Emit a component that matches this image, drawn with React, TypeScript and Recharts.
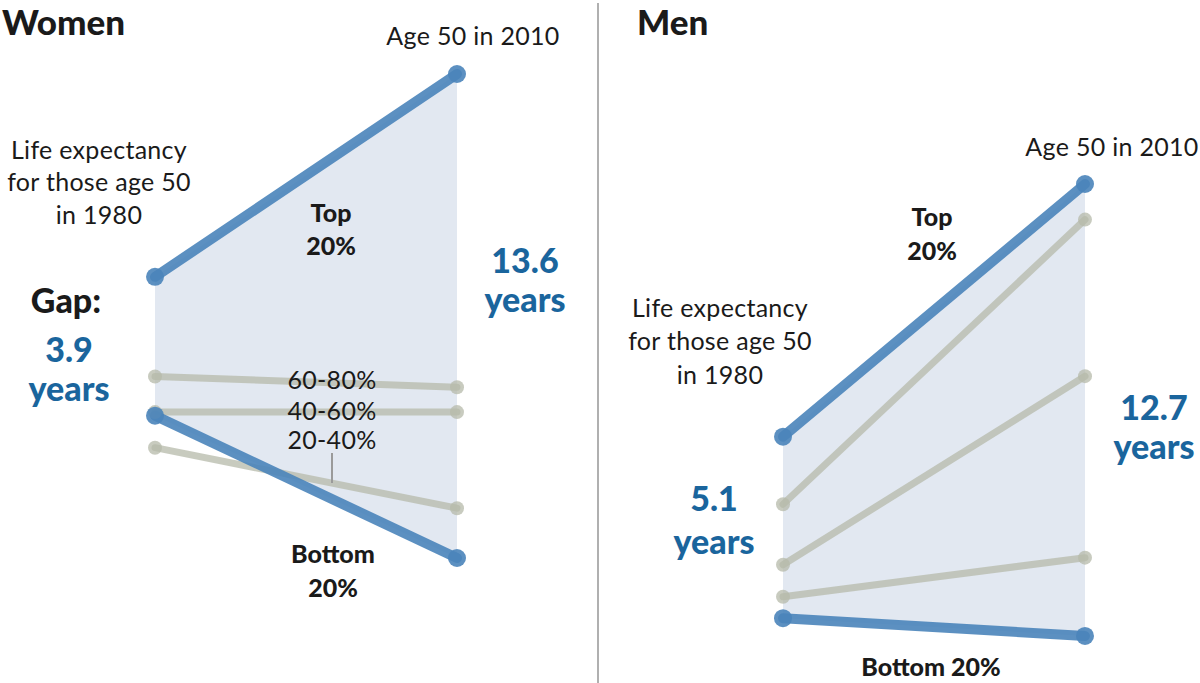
import { ComposedChart, Line, Area, XAxis, YAxis } from 'recharts';

// Life expectancy at age 50, by income quintile
const years = [1980, 2010];

const womenTop = [85.6, 91.3];
const women6080 = [82.8, 82.5];
const women4060 = [81.8, 81.8];
const women2040 = [80.8, 79.1];
const womenBottom = [81.7, 77.7];

const menTop = [81.7, 88.8];
const men6080 = [79.8, 87.8];
const men4060 = [78.1, 83.4];
const men2040 = [77.2, 78.3];
const menBottom = [76.6, 76.1];

const BLUE = '#4a84ba';
const GRAY = '#b6b9a9';
const SHADE = '#e2e8f1';
const TEXT_BLUE = '#1a659d';

const buildRows = (top: number[], q4: number[], q3: number[], q2: number[], bottom: number[]) =>
    years.map((year, i) => ({
        year,
        top: top[i],
        q4: q4[i],
        q3: q3[i],
        q2: q2[i],
        bottom: bottom[i],
        band: [bottom[i], top[i]],
    }));

const womenRows = buildRows(womenTop, women6080, women4060, women2040, womenBottom);
const menRows = buildRows(menTop, men6080, men4060, men2040, menBottom);

const font = 'Lato, "Open Sans", sans-serif';

function Label({ x, y, children, size = 25, weight = 400, color = '#1a1a1a', align = 'center', spacing = 0.3 }: any) {
    const tx = align === 'center' ? '-50%' : align === 'right' ? '-100%' : '0';
    return (
        <div
            style={{
                position: 'absolute',
                left: x,
                top: y,
                transform: `translate(${tx}, -50%)`,
                fontFamily: font,
                fontSize: size,
                fontWeight: weight,
                letterSpacing: spacing,
                color,
                whiteSpace: 'nowrap',
                lineHeight: 1.2,
            }}
        >
            {children}
        </div>
    );
}

function Slope({ rows, domain, margin }: { rows: any[]; domain: [number, number]; margin: any }) {
    return (
        <ComposedChart width={600} height={683} data={rows} margin={margin}>
            <XAxis dataKey="year" type="number" domain={[1980, 2010]} hide />
            <YAxis type="number" domain={domain} hide />
            <Area dataKey="band" fill={SHADE} fillOpacity={1} stroke="none" isAnimationActive={false} />
            {['q4', 'q3', 'q2'].map((k) => (
                <Line
                    key={k}
                    dataKey={k}
                    stroke={GRAY}
                    strokeOpacity={0.75}
                    strokeWidth={7}
                    strokeLinecap="round"
                    dot={{ r: 7, fill: GRAY, fillOpacity: 0.75, stroke: 'none' }}
                    isAnimationActive={false}
                />
            ))}
            {['bottom', 'top'].map((k) => (
                <Line
                    key={k}
                    dataKey={k}
                    stroke={BLUE}
                    strokeOpacity={0.9}
                    strokeWidth={10}
                    strokeLinecap="round"
                    dot={{ r: 9, fill: BLUE, fillOpacity: 0.9, stroke: 'none' }}
                    isAnimationActive={false}
                />
            ))}
        </ComposedChart>
    );
}

export default function App() {
    return (
        <div style={{ position: 'relative', width: 1200, height: 683, background: '#fff', overflow: 'hidden' }}>
            <style>{'body{margin:0}'}</style>

            {/* Women */}
            <div style={{ position: 'absolute', left: 0, top: 0 }}>
                <Slope rows={womenRows} domain={[76, 93]} margin={{ top: 13.5, bottom: 64.5, left: 155, right: 143 }} />
            </div>
            {/* Men */}
            <div style={{ position: 'absolute', left: 600, top: 0 }}>
                <Slope rows={menRows} domain={[75, 90]} margin={{ top: 141.3, bottom: 7.9, left: 183, right: 115 }} />
            </div>

            <div style={{ position: 'absolute', left: 597, top: 3, width: 2, height: 680, background: '#b0b0b0' }} />
            <div style={{ position: 'absolute', left: 331, top: 453, width: 2, height: 30, background: '#9a9a9a' }} />

            <Label x={2} y={21} size={35} weight={900} align="left" spacing={0}>Women</Label>
            <Label x={473} y={35}>Age 50 in 2010</Label>
            <Label x={99} y={149}>Life expectancy</Label>
            <Label x={99} y={181}>for those age 50</Label>
            <Label x={99} y={214}>in 1980</Label>
            <Label x={331} y={212} size={25} weight={900} spacing={0}>Top</Label>
            <Label x={331} y={245} size={25} weight={900} spacing={0}>20%</Label>
            <Label x={525} y={260} size={34} weight={900} color={TEXT_BLUE} spacing={0}>13.6</Label>
            <Label x={525} y={299} size={34} weight={900} color={TEXT_BLUE} spacing={0}>years</Label>
            <Label x={66} y={300} size={34} weight={900} spacing={0}>Gap:</Label>
            <Label x={69} y={349} size={34} weight={900} color={TEXT_BLUE} spacing={0}>3.9</Label>
            <Label x={69} y={388} size={34} weight={900} color={TEXT_BLUE} spacing={0}>years</Label>
            <Label x={332} y={379}>60-80%</Label>
            <Label x={332} y={410}>40-60%</Label>
            <Label x={332} y={439}>20-40%</Label>
            <Label x={333} y={553} size={25} weight={900} spacing={0}>Bottom</Label>
            <Label x={333} y={587} size={25} weight={900} spacing={0}>20%</Label>

            <Label x={637} y={21} size={35} weight={900} align="left" spacing={0}>Men</Label>
            <Label x={1112} y={146}>Age 50 in 2010</Label>
            <Label x={720} y={307}>Life expectancy</Label>
            <Label x={720} y={340}>for those age 50</Label>
            <Label x={720} y={374}>in 1980</Label>
            <Label x={932} y={216} size={25} weight={900} spacing={0}>Top</Label>
            <Label x={932} y={250} size={25} weight={900} spacing={0}>20%</Label>
            <Label x={1154} y={407} size={34} weight={900} color={TEXT_BLUE} spacing={0}>12.7</Label>
            <Label x={1154} y={446} size={34} weight={900} color={TEXT_BLUE} spacing={0}>years</Label>
            <Label x={714} y={498} size={34} weight={900} color={TEXT_BLUE} spacing={0}>5.1</Label>
            <Label x={714} y={541} size={34} weight={900} color={TEXT_BLUE} spacing={0}>years</Label>
            <Label x={931} y={666} size={25} weight={900} spacing={0}>Bottom 20%</Label>
        </div>
    );
}
